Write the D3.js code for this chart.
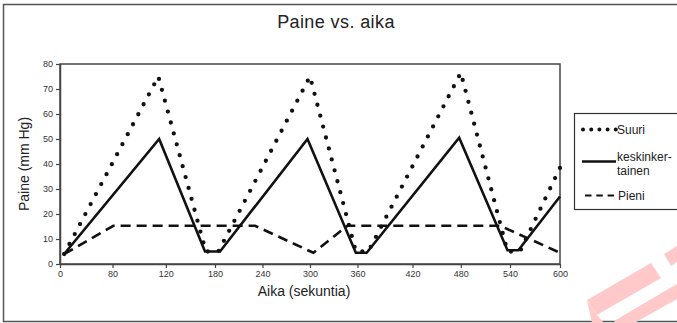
<!DOCTYPE html>
<html>
<head>
<meta charset="utf-8">
<script src="https://cdn.jsdelivr.net/npm/d3@7"></script>
<style>
  body { margin: 0; background: #fff; }
  text { font-family: "Liberation Sans", Arial, sans-serif; }
</style>
</head>
<body>
<div class="chart"></div>
<script>
const width = 677;
const height = 323;

// time in seconds, pressure in mmHg
const suuriTime  = [5, 118, 175, 190, 300, 355, 370, 481, 537, 552, 600];
const suuriValue = [4, 75, 5, 5, 75, 5, 5, 76.5, 5, 5, 38.5];
const keskiTime  = [5, 119, 174, 192, 297, 355, 368, 479, 537, 550, 600];
const keskiValue = [4, 50, 5, 5, 50, 4.5, 4.5, 50.5, 5.5, 5.5, 27];
const pieniTime  = [5, 64, 234, 304, 345, 528, 600];
const pieniValue = [4, 15.3, 15.3, 4.5, 15.3, 15.3, 4.5];

// x ticks sit a bit unevenly in the original, labels as printed
const xTickPos    = [0, 63, 127, 186, 243, 300, 357, 423, 481, 540, 600];
const xTickLabels = ['0', '80', '120', '180', '240', '300', '360', '420', '480', '540', '600'];
const yTicks      = [0, 10, 20, 30, 40, 50, 60, 70, 80];

const svg = d3.select('.chart').append('svg')
  .attr('width', width)
  .attr('height', height);

// outer frame
svg.append('rect')
  .attr('x', 3.5).attr('y', 4.5)
  .attr('width', 700).attr('height', 317)
  .attr('fill', 'none')
  .attr('stroke', '#555')
  .attr('stroke-width', 1.5);

// red watermark bits in the corner
const mark = [
  [[587, 300], [651, 263], [661, 278], [597, 315]],
  [[587, 300], [597, 315], [604, 323], [592, 323]],
  [[614, 321], [677, 284], [677, 299], [622, 330]],
  [[664, 254], [677, 246], [677, 262], [671, 266]]
];
svg.selectAll('.mark').data(mark).enter().append('polygon')
  .attr('class', 'mark')
  .attr('points', d => d.map(p => p.join(',')).join(' '))
  .attr('fill', '#ffc9c9');

// title
svg.append('text')
  .attr('x', 336).attr('y', 27.5)
  .attr('text-anchor', 'middle')
  .style('font-size', '18px')
  .style('letter-spacing', '0.4px')
  .attr('fill', '#222')
  .text('Paine vs. aika');

const x = d3.scaleLinear().domain([0, 600]).range([60, 560]);
const y = d3.scaleLinear().domain([0, 80]).range([264, 64]);

// plot box
svg.append('rect')
  .attr('x', x(0)).attr('y', y(80))
  .attr('width', x(600) - x(0)).attr('height', y(0) - y(80))
  .attr('fill', 'none')
  .attr('stroke', '#444')
  .attr('stroke-width', 1.5);

const xAxis = svg.append('g')
  .attr('transform', `translate(0,${y(0)})`)
  .call(d3.axisBottom(x)
    .tickValues(xTickPos)
    .tickFormat((d, i) => xTickLabels[i])
    .tickSize(4).tickSizeOuter(0).tickPadding(3));

const yAxis = svg.append('g')
  .attr('transform', `translate(${x(0)},0)`)
  .call(d3.axisLeft(y)
    .tickValues(yTicks)
    .tickSize(4).tickSizeOuter(0).tickPadding(3));

[xAxis, yAxis].forEach(function(a) {
  a.select('.domain').attr('stroke', '#444').attr('stroke-width', 1.5);
  a.selectAll('.tick line').attr('stroke', '#444').attr('stroke-width', 1.2);
  a.selectAll('.tick text')
    .attr('fill', '#333')
    .style('font-size', '9px')
    .style('font-family', '"Liberation Sans", Arial, sans-serif');
});

// axis titles
svg.append('text')
  .attr('x', 304).attr('y', 296)
  .attr('text-anchor', 'middle')
  .style('font-size', '14px')
  .attr('fill', '#222')
  .text('Aika (sekuntia)');

svg.append('text')
  .attr('transform', 'translate(29,164) rotate(-90)')
  .attr('text-anchor', 'middle')
  .style('font-size', '14px')
  .attr('fill', '#222')
  .text('Paine (mm Hg)');

// series
const line = d3.line()
  .x(d => x(d[0]))
  .y(d => y(d[1]));

const series = [
  { name: 'Suuri', data: d3.zip(suuriTime, suuriValue), width: 4.3, dash: '0 11.3', cap: 'round' },
  { name: 'keskinkertainen', data: d3.zip(keskiTime, keskiValue), width: 2.6, dash: null, cap: 'butt' },
  { name: 'Pieni', data: d3.zip(pieniTime, pieniValue), width: 2.6, dash: '10 6', cap: 'butt' }
];

svg.selectAll('.series').data(series).enter().append('path')
  .attr('class', 'series')
  .attr('d', d => line(d.data))
  .attr('fill', 'none')
  .attr('stroke', '#111')
  .attr('stroke-width', d => d.width)
  .attr('stroke-linecap', d => d.cap)
  .attr('stroke-linejoin', 'miter')
  .attr('stroke-dasharray', d => d.dash);

// legend
const legend = svg.append('g');
legend.append('rect')
  .attr('x', 574.5).attr('y', 113.5)
  .attr('width', 130).attr('height', 96)
  .attr('fill', '#fff')
  .attr('stroke', '#333')
  .attr('stroke-width', 1.2);

legend.append('line')
  .attr('x1', 583).attr('x2', 616).attr('y1', 129.5).attr('y2', 129.5)
  .attr('stroke', '#111').attr('stroke-width', 4)
  .attr('stroke-linecap', 'round').attr('stroke-dasharray', '0 8.2');
legend.append('line')
  .attr('x1', 582).attr('x2', 616).attr('y1', 161.5).attr('y2', 161.5)
  .attr('stroke', '#111').attr('stroke-width', 2.6);
legend.append('line')
  .attr('x1', 585).attr('x2', 614).attr('y1', 195.5).attr('y2', 195.5)
  .attr('stroke', '#111').attr('stroke-width', 2.2)
  .attr('stroke-dasharray', '6.5 4.8');

const legendText = [
  { t: 'Suuri', x: 617, y: 133.5 },
  { t: 'keskinker-', x: 617, y: 160.5 },
  { t: 'tainen', x: 617, y: 174.5 },
  { t: 'Pieni', x: 618, y: 199.5 }
];
legend.selectAll('.lt').data(legendText).enter().append('text')
  .attr('class', 'lt')
  .attr('x', d => d.x).attr('y', d => d.y)
  .style('font-size', '12px')
  .attr('fill', '#222')
  .text(d => d.t);
</script>
</body>
</html>
